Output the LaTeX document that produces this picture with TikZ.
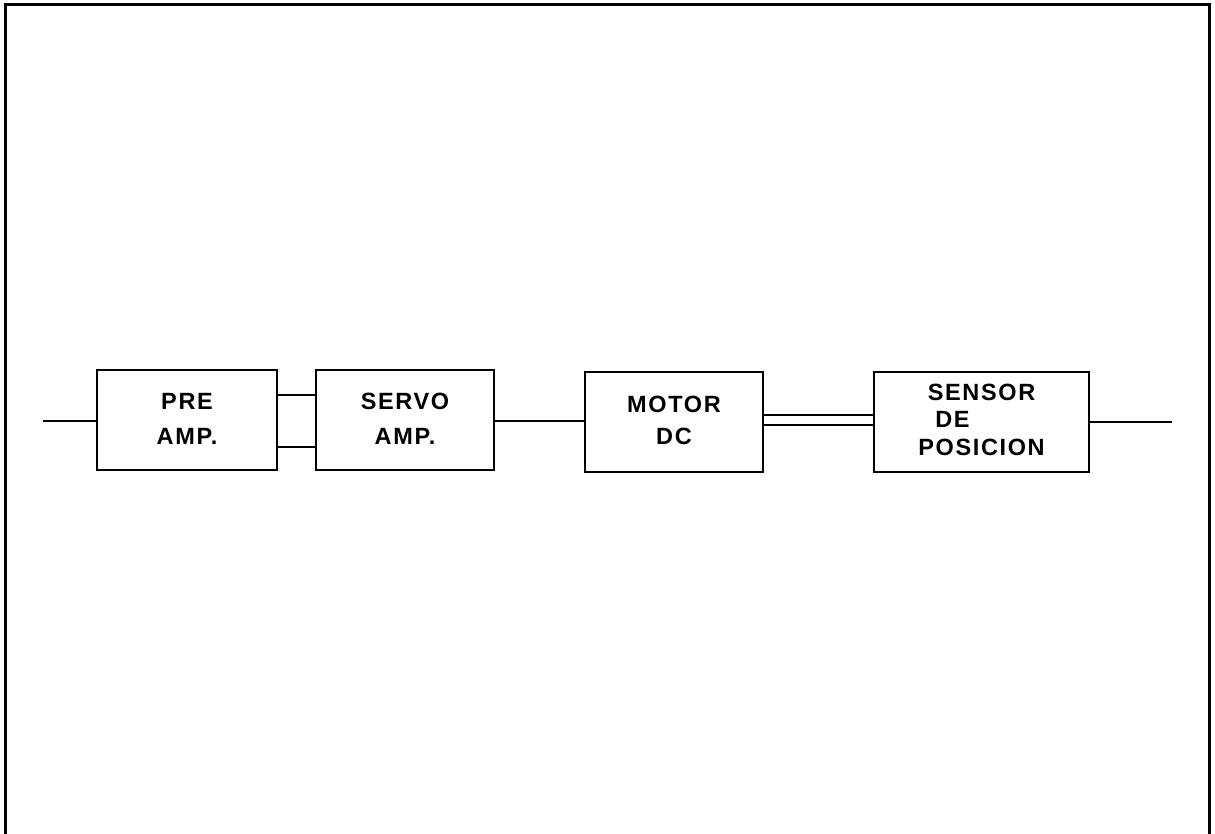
\documentclass[tikz,border=0pt]{standalone}
\usepackage{fontspec}
\setmainfont{Liberation Sans}
\newfontfamily\blkfont[LetterSpace=7]{Liberation Sans}
\usetikzlibrary{calc}
\begin{document}
\begin{tikzpicture}[x=1pt,y=-1pt,
  frame/.style={line width=3pt, line cap=rect},
  blk/.style={draw, line width=2pt, inner sep=0pt, align=center,
    minimum height=100pt,
    font=\blkfont\bfseries\fontsize{23.5}{35}\selectfont},
  wire/.style={line width=2pt}]
\useasboundingbox (0,0) rectangle (1215,834);
\draw[frame] (5,834) -- (5,5) -- (1209,5) -- (1209,834);
% blocks
\node[blk, minimum width=180pt] (pre) at (187,420) {\raisebox{3pt}{\begin{tabular}{@{}c@{}}PRE\\AMP.\end{tabular}}};
\node[blk, minimum width=178pt] (servo) at (405,420) {\raisebox{3pt}{\begin{tabular}{@{}c@{}}SERVO\\AMP.\end{tabular}}};
\node[blk, minimum width=178pt, font=\blkfont\bfseries\fontsize{23.5}{32}\selectfont] (motor) at (674,422) {\raisebox{2pt}{\begin{tabular}{@{}c@{}}MOTOR\\DC\end{tabular}}};
\node[blk, minimum width=215pt, font=\blkfont\bfseries\fontsize{23.5}{27.5}\selectfont] (sensor) at (981.5,422)
  {\raisebox{6pt}{\begin{tabular}{@{}c@{}}SENSOR\\\makebox[0pt]{\hspace{-58pt}DE}\\POSICION\end{tabular}}};
% connectors
\coordinate (in) at (43,421);
\coordinate (out) at (1172,422);
\draw[wire] (in) -- (pre.west |- in);
\draw[wire] ($(pre.north east)!0.25!(pre.south east)$) -- ($(servo.north west)!0.25!(servo.south west)$);
\draw[wire] ($(pre.north east)!0.76!(pre.south east)$) -- ($(servo.north west)!0.76!(servo.south west)$);
\draw[wire] (servo.east |- 0,421) -- (motor.west |- 0,421);
\draw[wire] (motor.east |- 0,415) -- (sensor.west |- 0,415);
\draw[wire] (motor.east |- 0,425) -- (sensor.west |- 0,425);
\draw[wire] (sensor.east |- out) -- (out);
\end{tikzpicture}
\end{document}
